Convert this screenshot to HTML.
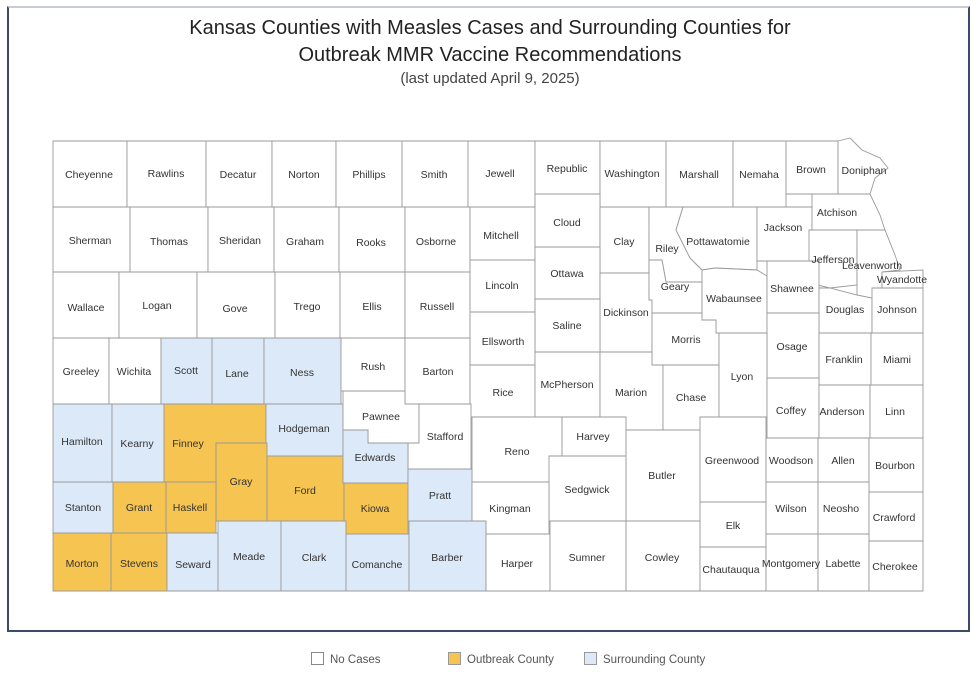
<!DOCTYPE html>
<html><head><meta charset="utf-8"><style>
body{margin:0;background:#fff;width:980px;height:679px;overflow:hidden;font-family:"Liberation Sans",sans-serif}
#frame{position:absolute;left:7px;top:6px;width:963px;height:626px;border:2px solid #3d4b68;border-top-color:#c8ccd6;box-sizing:border-box}
.t{position:absolute;left:0;width:980px;text-align:center;color:#222}
</style></head><body>
<div id="frame"></div>
<div class="t" style="top:17px;font-size:20px">Kansas Counties with Measles Cases and Surrounding Counties for</div>
<div class="t" style="top:44px;font-size:20px">Outbreak MMR Vaccine Recommendations</div>
<div class="t" style="top:70px;font-size:15px;color:#444">(last updated April 9, 2025)</div>
<svg id="map" width="980" height="679" style="position:absolute;left:0;top:0"></svg>
<div style="position:absolute;top:652px;left:311px;font-size:11.5px;color:#555">
<span style="position:absolute;left:0;white-space:nowrap"><span style="display:inline-block;width:11px;height:11px;border:1px solid #888;background:#fff;vertical-align:-2px;margin-right:6px"></span>No Cases</span>
<span style="position:absolute;left:137px;white-space:nowrap"><span style="display:inline-block;width:11px;height:11px;border:1px solid #999;background:#f6c451;vertical-align:-2px;margin-right:6px"></span>Outbreak County</span>
<span style="position:absolute;left:273px;white-space:nowrap"><span style="display:inline-block;width:11px;height:11px;border:1px solid #999;background:#dce9f8;vertical-align:-2px;margin-right:6px"></span>Surrounding County</span>
</div>
<script>
const outbreakCounties=["Finney","Gray","Ford","Kiowa","Grant","Haskell","Morton","Stevens"];
const surroundingCounties=["Scott","Lane","Ness","Hamilton","Kearny","Hodgeman","Edwards","Pratt","Stanton","Seward","Meade","Clark","Comanche","Barber"];
const countyNames=[];
const C=[
["Cheyenne","53,141 127,141 127,207 53,207"],["Rawlins","127,141 206,141 206,207 127,207"],["Decatur","206,141 272,141 272,207 206,207"],["Norton","272,141 336,141 336,207 272,207"],["Phillips","336,141 402,141 402,207 336,207"],["Smith","402,141 468,141 468,207 402,207"],["Jewell","468,141 535,141 535,207 468,207"],["Republic","535,141 600,141 600,194 535,194"],["Washington","600,141 666,141 666,207 600,207"],["Marshall","666,141 733,141 733,207 666,207"],["Nemaha","733,141 786,141 786,207 733,207"],["Brown","786,141 838,141 838,194 786,194"],["Doniphan","838,141 850,138 862,150 880,158 888,168 875,178 870,194 838,194"],
["Sherman","53,207 130,207 130,272 53,272"],["Thomas","130,207 208,207 208,272 130,272"],["Sheridan","208,207 274,207 274,272 208,272"],["Graham","274,207 339,207 339,272 274,272"],["Rooks","339,207 405,207 405,272 339,272"],["Osborne","405,207 470,207 470,272 405,272"],["Mitchell","470,207 535,207 535,260 470,260"],["Cloud","535,194 600,194 600,247 535,247"],["Clay","600,207 649,207 649,273 600,273"],["Riley","649,207 683,207 676,230 690,258 702,270 702,282 666,282 662,260 649,260"],["Pottawatomie","683,207 757,207 757,270 715,268 702,270 690,258 676,230"],["Jackson","757,207 812,207 812,261 757,261"],["Atchison","812,194 870,194 880,215 885,230 812,230"],["Jefferson","809,230 857,230 857,285 830,288 809,283"],["Leavenworth","857,230 885,230 895,255 900,270 882,272 882,298 870,300 857,295"],["Wyandotte","882,272 923,270 923,288 898,290 882,298"],
["Wallace","53,272 119,272 119,338 53,338"],["Logan","119,272 197,272 197,338 119,338"],["Gove","197,272 275,272 275,338 197,338"],["Trego","275,272 340,272 340,338 275,338"],["Ellis","340,272 405,272 405,338 340,338"],["Russell","405,272 470,272 470,338 405,338"],["Lincoln","470,260 535,260 535,312 470,312"],["Ottawa","535,247 600,247 600,299 535,299"],["Dickinson","600,273 649,273 649,300 652,300 652,352 600,352"],["Geary","649,260 662,260 666,282 702,282 702,313 652,313 652,300 649,300"],["Wabaunsee","702,270 715,268 757,270 767,276 767,333 716,333 716,320 702,320"],["Shawnee","767,261 819,261 819,313 767,313"],["Douglas","819,288 830,288 857,295 872,298 872,333 819,333"],["Johnson","872,288 923,288 923,333 872,333"],
["Saline","535,299 600,299 600,352 535,352"],["Ellsworth","470,312 535,312 535,365 470,365"],["Morris","652,313 702,313 702,320 716,320 716,333 719,333 719,365 652,365"],["Osage","767,313 819,313 819,378 767,378"],["Franklin","819,333 871,333 871,385 819,385"],["Miami","871,333 923,333 923,385 871,385"],
["Greeley","53,338 109,338 109,404 53,404"],["Wichita","109,338 161,338 161,404 109,404"],["Scott","161,338 212,338 212,404 161,404"],["Lane","212,338 264,338 264,404 212,404"],["Ness","264,338 341,338 341,404 264,404"],["Rush","341,338 405,338 405,391 341,391"],["Barton","405,338 470,338 470,404 405,404"],["Rice","470,365 535,365 535,417 470,417"],["McPherson","535,352 600,352 600,417 535,417"],["Marion","600,352 652,352 652,365 663,365 663,430 600,430"],["Chase","663,365 719,365 719,430 663,430"],["Lyon","719,333 767,333 767,417 719,417"],["Coffey","767,378 819,378 819,438 767,438"],["Anderson","819,385 870,385 870,438 819,438"],["Linn","870,385 923,385 923,438 870,438"],
["Hamilton","53,404 112,404 112,482 53,482"],["Kearny","112,404 164,404 164,482 112,482"],["Finney","164,404 266,404 266,443 216,443 216,482 164,482"],["Hodgeman","266,404 343,404 343,456 266,456"],["Pawnee","343,391 405,391 405,404 419,404 419,443 368,443 368,430 343,430"],["Stafford","419,404 471,404 471,469 408,469 408,443 419,443"],["Reno","472,417 562,417 562,482 472,482"],["Harvey","562,417 626,417 626,456 562,456"],["Butler","626,430 700,430 700,521 626,521"],["Greenwood","700,417 766,417 766,502 700,502"],["Woodson","766,438 818,438 818,482 766,482"],["Allen","818,438 869,438 869,482 818,482"],["Bourbon","869,438 923,438 923,492 869,492"],
["Gray","216,443 267,443 267,521 216,521"],["Ford","267,456 344,456 344,521 267,521"],["Edwards","343,430 368,430 368,443 408,443 408,483 343,483"],["Kiowa","344,483 408,483 408,534 344,534"],["Pratt","408,469 472,469 472,521 408,521"],["Sedgwick","549,456 626,456 626,521 549,521"],["Kingman","472,482 549,482 549,534 472,534"],["Elk","700,502 766,502 766,547 700,547"],["Wilson","766,482 818,482 818,534 766,534"],["Neosho","818,482 869,482 869,534 818,534"],["Crawford","869,492 923,492 923,541 869,541"],
["Stanton","53,482 113,482 113,533 53,533"],["Grant","113,482 166,482 166,533 113,533"],["Haskell","166,482 216,482 216,533 166,533"],["Morton","53,533 111,533 111,591 53,591"],["Stevens","111,533 167,533 167,591 111,591"],["Seward","167,533 218,533 218,591 167,591"],["Meade","218,521 281,521 281,591 218,591"],["Clark","281,521 346,521 346,591 281,591"],["Comanche","346,534 409,534 409,591 346,591"],["Barber","409,521 486,521 486,591 409,591"],["Harper","486,534 550,534 550,591 486,591"],["Sumner","550,521 626,521 626,591 550,591"],["Cowley","626,521 700,521 700,591 626,591"],["Chautauqua","700,547 766,547 766,591 700,591"],["Montgomery","766,534 818,534 818,591 766,591"],["Labette","818,534 869,534 869,591 818,591"],["Cherokee","869,541 923,541 923,591 869,591"]];
const labelPos={Cheyenne:[89,174],Rawlins:[166,173],Decatur:[238,174],Norton:[304,174],Phillips:[369,174],Smith:[434,174],Jewell:[500,173],Republic:[567,168],Washington:[632,173],Marshall:[699,174],Nemaha:[759,174],Brown:[811,169],Doniphan:[864,170],Sherman:[90,240],Thomas:[169,241],Sheridan:[240,240],Graham:[305,241],Rooks:[371,242],Osborne:[436,241],Mitchell:[501,235],Cloud:[567,222],Clay:[624,241],Riley:[667,248],Pottawatomie:[718,241],Jackson:[783,227],Atchison:[837,212],Jefferson:[833,259],Leavenworth:[872,265],Wyandotte:[902,279],Wallace:[86,307],Logan:[157,305],Gove:[235,308],Trego:[307,306],Ellis:[372,306],Russell:[437,306],Lincoln:[502,285],Ottawa:[567,273],Dickinson:[626,312],Geary:[675,286],Wabaunsee:[734,298],Shawnee:[792,288],Douglas:[845,309],Johnson:[897,309],Saline:[567,325],Ellsworth:[503,341],Morris:[686,339],Osage:[792,346],Franklin:[844,359],Miami:[897,359],Greeley:[81,371],Wichita:[134,371],Scott:[186,370],Lane:[237,373],Ness:[302,372],Rush:[373,366],Barton:[438,371],Rice:[503,392],McPherson:[567,384],Marion:[631,392],Chase:[691,397],Lyon:[742,376],Coffey:[791,410],Anderson:[842,411],Linn:[895,411],Hamilton:[82,441],Kearny:[137,443],Finney:[188,443],Hodgeman:[304,428],Pawnee:[381,416],Stafford:[445,436],Reno:[517,451],Harvey:[593,436],Butler:[662,475],Greenwood:[732,460],Woodson:[791,460],Allen:[843,460],Bourbon:[895,465],Gray:[241,481],Ford:[305,490],Edwards:[375,457],Kiowa:[375,508],Pratt:[440,495],Sedgwick:[587,489],Kingman:[510,508],Elk:[733,525],Wilson:[791,508],Neosho:[841,508],Crawford:[894,517],Stanton:[83,507],Grant:[139,507],Haskell:[190,507],Morton:[82,563],Stevens:[139,563],Seward:[193,564],Meade:[249,556],Clark:[314,557],Comanche:[377,564],Barber:[447,557],Harper:[517,563],Sumner:[587,557],Cowley:[662,557],Chautauqua:[731,569],Montgomery:[791,563],Labette:[843,563],Cherokee:[895,566]};
const svg=document.getElementById('map');
const NS='http://www.w3.org/2000/svg';
C.forEach(([name,pts])=>{
  countyNames.push(name);
  const p=document.createElementNS(NS,'polygon');
  p.setAttribute('points',pts);
  const fill=outbreakCounties.includes(name)?'#f6c451':surroundingCounties.includes(name)?'#dce9f8':'#fff';
  p.setAttribute('fill',fill);p.setAttribute('stroke','#9a9a9a');p.setAttribute('stroke-width','0.9');
  
  
  svg.appendChild(p);
});
C.forEach(([name])=>{
  const lp=labelPos[name];
  const t=document.createElementNS(NS,'text');
  t.setAttribute('x',lp[0]);t.setAttribute('y',lp[1]+4);
  t.setAttribute('text-anchor','middle');t.setAttribute('font-size','10.5');t.setAttribute('fill','#333');
  t.setAttribute('font-family','Liberation Sans, sans-serif');
  t.textContent=name;
  
  
  svg.appendChild(t);
});
</script>
</body></html>
